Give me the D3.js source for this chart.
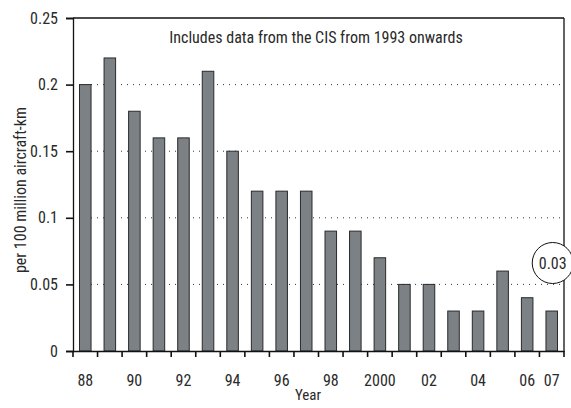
<!DOCTYPE html>
<html><head><meta charset="utf-8">
<script src="https://cdn.jsdelivr.net/npm/d3@7"></script>
<style>
body{margin:0;background:#fff;}
text{font-family:"Liberation Sans Narrow","Roboto Condensed","Liberation Sans",Arial,sans-serif;fill:#2a2a2a;}
</style></head>
<body><svg id="c" width="571" height="408"></svg>
<script>
const years = ["88","89","90","91","92","93","94","95","96","97","98","99","2000","01","02","03","04","05","06","07"];
const tickLabels = ["88","90","92","94","96","98","2000","02","04","06","07"];
const values = [0.2,0.22,0.18,0.16,0.16,0.21,0.15,0.12,0.12,0.12,0.09,0.09,0.07,0.05,0.05,0.03,0.03,0.06,0.04,0.03];
const yTicks = [0,0.05,0.1,0.15,0.2,0.25];
const note = "Includes data from the CIS from 1993 onwards";
const callout = "0.03";

const svg = d3.select("#c");
const L=73, R=564, T=18, B=351;
const x = d3.scaleBand().domain(years).range([L,R]).paddingInner(0.53).paddingOuter(0.265);
const xt = d3.scaleBand().domain(years).range([L,R]);
const y = d3.scaleLinear().domain([0,0.25]).range([B,T]);

// grid
svg.append("g").selectAll("line").data(yTicks.filter(d=>d>0&&d<0.25)).join("line")
  .attr("x1",L).attr("x2",R).attr("y1",d=>y(d)).attr("y2",d=>y(d))
  .attr("stroke","#333").attr("stroke-width",1).attr("stroke-dasharray","1,5");

// bars
svg.append("g").selectAll("rect").data(values).join("rect")
  .attr("x",(d,i)=>x(years[i])).attr("width",x.bandwidth())
  .attr("y",d=>y(d)).attr("height",d=>B-y(d))
  .attr("fill","#7b8185").attr("stroke","#2a2a2a").attr("stroke-width",1);

// frame top & right
svg.append("line").attr("x1",L).attr("x2",R).attr("y1",T).attr("y2",T).attr("stroke","#111").attr("stroke-width",1.3);
svg.append("line").attr("x1",R).attr("x2",R).attr("y1",T).attr("y2",B).attr("stroke","#111").attr("stroke-width",1.3);

// y axis
const ya = svg.append("g").attr("transform",`translate(${L},0)`)
  .call(d3.axisLeft(y).tickValues(yTicks).tickFormat(d=>d===0?"0":String(+d.toFixed(2))).tickSize(7).tickPadding(8));
ya.select(".domain").attr("stroke","#111").attr("stroke-width",1.3);
ya.selectAll(".tick line").attr("stroke","#111").attr("stroke-width",1.6);
ya.selectAll("text").attr("font-size",16).attr("font-family",null).attr("fill","#2a2a2a");

// x axis
const xa = svg.append("g").attr("transform",`translate(0,${B})`)
  .call(d3.axisBottom(xt).tickValues([]).tickSizeOuter(0));
xa.select(".domain").attr("stroke","#111").attr("stroke-width",1.3);
svg.append("g").selectAll("line").data(d3.range(years.length+1)).join("line")
  .attr("x1",i=>L+i*xt.step()).attr("x2",i=>L+i*xt.step())
  .attr("y1",B).attr("y2",B+6).attr("stroke","#111").attr("stroke-width",1.6);
svg.append("g").selectAll("text").data(tickLabels).join("text")
  .attr("x",d=>xt(d)+xt.bandwidth()/2).attr("y",386)
  .attr("text-anchor","middle").attr("font-size",16).text(d=>d);

// axis titles
svg.append("text").attr("x",308).attr("y",400).attr("text-anchor","middle").attr("font-size",15).text("Year");
svg.append("text").attr("transform","translate(26,190) rotate(-90)").attr("text-anchor","middle").attr("font-size",16).text("per 100 million aircraft-km");

// note
svg.append("text").attr("x",316).attr("y",43).attr("text-anchor","middle").attr("font-size",16).text(note);

// callout
const last = years[years.length-1];
const cx = xt(last)+xt.bandwidth()/2+1, cy = 263;
svg.append("circle").attr("cx",cx).attr("cy",cy).attr("r",20.5).attr("fill","#fff").attr("stroke","#111").attr("stroke-width",1);
svg.append("text").attr("x",cx).attr("y",cy+5.5).attr("text-anchor","middle").attr("font-size",16).text(callout);
</script></body></html>
